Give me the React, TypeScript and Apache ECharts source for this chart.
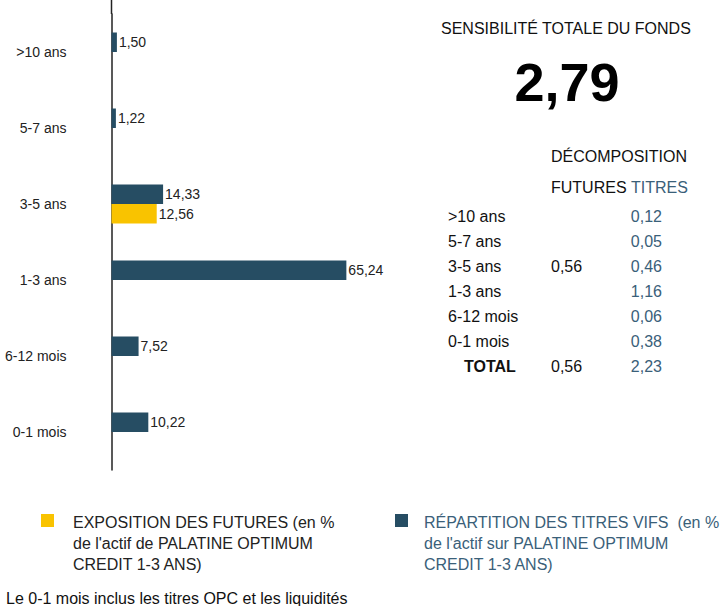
import React, { useEffect, useRef } from "react";
import * as echarts from "echarts";

const categories = [">10 ans", "5-7 ans", "3-5 ans", "1-3 ans", "6-12 mois", "0-1 mois"];
const titresValues = [1.5, 1.22, 14.33, 65.24, 7.52, 10.22];
const futuresValues = [null, null, 12.56, null, null, null];

const totalSensitivity = "2,79";
const tableFutures = ["", "", "0,56", "", "", ""];
const tableTitres = ["0,12", "0,05", "0,46", "1,16", "0,06", "0,38"];
const totalFutures = "0,56";
const totalTitres = "2,23";

const DARK = "#264d63";
const YELLOW = "#f9c300";
const BLUE_TEXT = "#3a6079";
const FONT = "'Liberation Sans', Arial, sans-serif";

const fmt = (v: number) => v.toFixed(2).replace(".", ",");

export default function App() {
  const ref = useRef<HTMLDivElement>(null);
  useEffect(() => {
    document.body.style.margin = "0";
    const chart = echarts.init(ref.current!, null, { renderer: "svg" });
    const rowY = [216, 241, 266, 291, 316, 341];
    const F = `16px ${FONT}`;
    const graphics: any[] = [
      { type: "line", shape: { x1: 111.5, y1: 0, x2: 111.5, y2: 14 }, style: { stroke: "#222", lineWidth: 1.5 } },
      { type: "text", x: 441, y: 28, style: { text: "SENSIBILITÉ TOTALE DU FONDS", font: F, fill: "#111", verticalAlign: "middle" } },
      { type: "text", x: 567, y: 82, style: { text: totalSensitivity, font: `bold 54px ${FONT}`, fill: "#000", align: "center", verticalAlign: "middle" } },
      { type: "text", x: 551, y: 156, style: { text: "DÉCOMPOSITION", font: F, fill: "#111", verticalAlign: "middle" } },
      { type: "text", x: 551, y: 187, style: { text: "FUTURES", font: F, fill: "#111", verticalAlign: "middle" } },
      { type: "text", x: 631, y: 187, style: { text: "TITRES", font: F, fill: BLUE_TEXT, verticalAlign: "middle" } },
    ];
    categories.forEach((c, i) => {
      graphics.push({ type: "text", x: 448, y: rowY[i], style: { text: c, font: F, fill: "#111", verticalAlign: "middle" } });
      if (tableFutures[i]) graphics.push({ type: "text", x: 551, y: rowY[i], style: { text: tableFutures[i], font: F, fill: "#111", verticalAlign: "middle" } });
      graphics.push({ type: "text", x: 662, y: rowY[i], style: { text: tableTitres[i], font: F, fill: BLUE_TEXT, align: "right", verticalAlign: "middle" } });
    });
    graphics.push({ type: "text", x: 464, y: 366, style: { text: "TOTAL", font: `bold 16px ${FONT}`, fill: "#111", verticalAlign: "middle" } });
    graphics.push({ type: "text", x: 551, y: 366, style: { text: totalFutures, font: F, fill: "#111", verticalAlign: "middle" } });
    graphics.push({ type: "text", x: 662, y: 366, style: { text: totalTitres, font: F, fill: BLUE_TEXT, align: "right", verticalAlign: "middle" } });
    // legend
    graphics.push({ type: "rect", shape: { x: 41, y: 514, width: 13, height: 13 }, style: { fill: YELLOW } });
    graphics.push({ type: "text", x: 73, y: 512, style: { text: "EXPOSITION DES FUTURES (en %\nde l'actif de PALATINE OPTIMUM\nCREDIT 1-3 ANS)", font: F, lineHeight: 21, fill: "#222" } });
    graphics.push({ type: "rect", shape: { x: 395, y: 514, width: 13, height: 13 }, style: { fill: DARK } });
    graphics.push({ type: "text", x: 424, y: 512, style: { text: "RÉPARTITION DES TITRES VIFS  (en %\nde l'actif sur PALATINE OPTIMUM\nCREDIT 1-3 ANS)", font: F, lineHeight: 21, fill: BLUE_TEXT } });
    graphics.push({ type: "text", x: 6, y: 598, style: { text: "Le 0-1 mois inclus les titres OPC et les liquidités", font: F, fill: "#111", verticalAlign: "middle" } });

    chart.setOption({
      animation: false,
      grid: { left: 111.5, top: 14, width: 360, height: 456 },
      xAxis: { type: "value", min: 0, max: 100, show: false },
      yAxis: {
        type: "category",
        data: categories,
        inverse: true,
        axisLine: { lineStyle: { color: "#222", width: 1.5 } },
        axisTick: { show: false },
        axisLabel: { margin: 45, color: "#222", fontSize: 14, fontFamily: FONT },
      },
      series: [
        {
          type: "bar",
          name: "TITRES",
          data: titresValues,
          barWidth: 19.5,
          barGap: "0%",
          itemStyle: { color: DARK },
          label: { show: true, position: "right", distance: 2, color: "#222", fontSize: 14, fontFamily: FONT, formatter: (p: any) => fmt(p.value) },
        },
        {
          type: "bar",
          name: "FUTURES",
          data: futuresValues,
          barWidth: 19.5,
          barGap: "0%",
          itemStyle: { color: YELLOW },
          label: { show: true, position: "right", distance: 2, color: "#222", fontSize: 14, fontFamily: FONT, formatter: (p: any) => (p.value == null ? "" : fmt(p.value)) },
        },
      ],
      graphic: graphics,
    });
    return () => chart.dispose();
  }, []);
  return <div ref={ref} style={{ width: 722, height: 606 }} />;
}
